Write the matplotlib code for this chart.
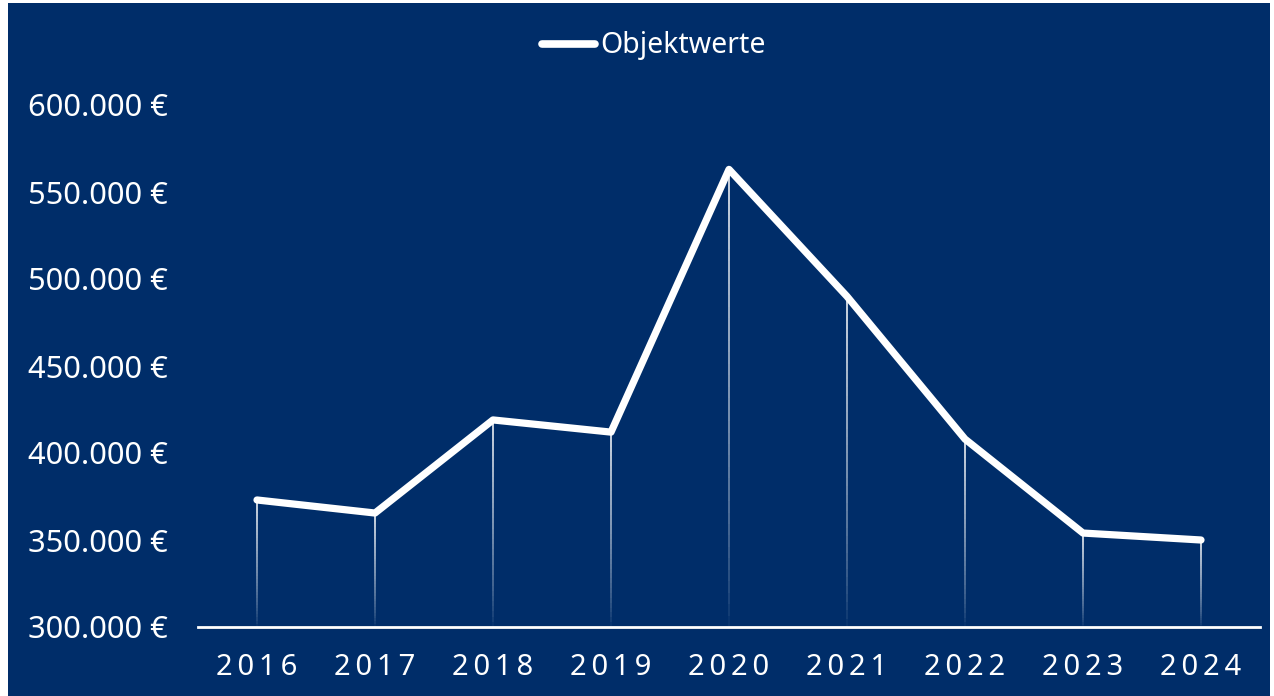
import matplotlib
matplotlib.use("Agg")
import matplotlib.pyplot as plt
from matplotlib.collections import LineCollection
from matplotlib.patches import Rectangle
import numpy as np

years = [2016, 2017, 2018, 2019, 2020, 2021, 2022, 2023, 2024]
values = [373000, 365500, 419000, 412000, 563000, 490000, 408000, 354000, 350000]
series_name = "Objektwerte"
y_ticks = [300000, 350000, 400000, 450000, 500000, 550000, 600000]

BG = "#002D69"
FONT = "Noto Sans"
plt.rcParams['font.family'] = [FONT, 'DejaVu Sans']

fig = plt.figure(figsize=(12.74, 6.96), dpi=100)
fig.patch.set_facecolor("white")
bg = Rectangle((8/1274, 0), (1270-8)/1274, (696-3)/696,
               transform=fig.transFigure, facecolor=BG,
               edgecolor="none", zorder=-10)
fig.patches.append(bg)

ax = fig.add_axes([198/1274, (696-627)/696, (1260-198)/1274, 522/696])
ax.set_zorder(5)
ax.set_facecolor("none")
ax.set_xlim(2015.5, 2024.5)
ax.set_ylim(300000, 600000)

# gradient drop lines
segs, cols = [], []
n = 40
for x, v in zip(years, values):
    ys = np.linspace(300000, v, n + 1)
    for i in range(n):
        segs.append([(x, ys[i]), (x, ys[i + 1])])
        a = (i + 0.5) / n
        cols.append((1, 1, 1, 0.95 * a ** 0.7))
ax.add_collection(LineCollection(segs, colors=cols, linewidths=1.2, zorder=2))

ax.plot(years, values, color="white", lw=5.2, solid_capstyle="round",
        solid_joinstyle="round", zorder=3, clip_on=False, label=series_name)

for s in ["top", "right", "left"]:
    ax.spines[s].set_visible(False)
ax.spines["bottom"].set_color("white")
ax.spines["bottom"].set_linewidth(2)
ax.spines["bottom"].set_zorder(4)

ax.set_xticks(years)
ax.set_xticklabels(["\u2009".join(list(str(y))) for y in years])
ax.set_yticks(y_ticks)
ax.set_yticklabels([f"{t:,.0f}".replace(",", ".") + " €" for t in y_ticks])
ax.tick_params(axis="x", length=0, pad=19, labelsize=21, colors="white")
ax.tick_params(axis="y", length=0, pad=22, labelsize=22.2, colors="white")

leg = ax.legend(loc="center", bbox_to_anchor=(654/1274, (696-46)/696),
                bbox_transform=fig.transFigure, frameon=False,
                fontsize=20.5, labelcolor="white", handlelength=1.85,
                handletextpad=0.2, borderpad=0)
for h in leg.get_lines():
    h.set_linewidth(5.5)

fig.savefig("out.png", dpi=100, facecolor=fig.get_facecolor())
